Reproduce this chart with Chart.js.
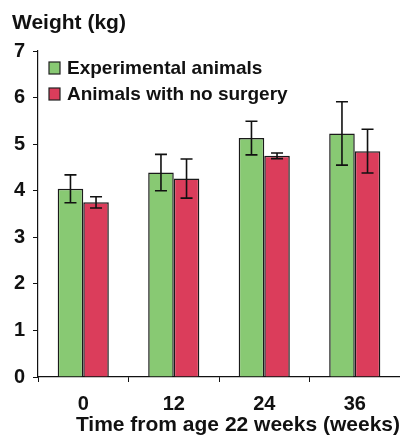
<!DOCTYPE html>
<html>
<head>
<meta charset="utf-8">
<script src="https://cdn.jsdelivr.net/npm/chart.js@4"></script>
<style>
  html, body { margin: 0; padding: 0; background: #fff; }
  #wrap { width: 400px; height: 438px; position: relative; }
</style>
</head>
<body>
<div id="wrap"><canvas id="weightChart"></canvas></div>
<script>
const weeks = ["0", "12", "24", "36"];
const experimental = [4.04, 4.39, 5.13, 5.23];
const experimentalErr = [0.3, 0.39, 0.36, 0.68];
const noSurgery = [3.75, 4.26, 4.75, 4.85];
const noSurgeryErr = [0.12, 0.42, 0.06, 0.47];
const seriesNames = ["Experimental animals", "Animals with no surgery"];
const yTitle = "Weight (kg)";
const xTitle = "Time from age 22 weeks (weeks)";

const FONT = "'Liberation Sans', Arial, Helvetica, sans-serif";

// error bars drawn on top of the bars
const errorBars = {
  id: "errorBars",
  afterDatasetsDraw(chart) {
    const ctx = chart.ctx;
    const y = chart.scales.y;
    ctx.save();
    ctx.strokeStyle = "#111";
    ctx.lineWidth = 1.6;
    chart.data.datasets.forEach((ds, di) => {
      const meta = chart.getDatasetMeta(di);
      meta.data.forEach((bar, i) => {
        const v = ds.data[i];
        const e = ds.errors[i];
        const top = y.getPixelForValue(v + e);
        const bot = y.getPixelForValue(v - e);
        ctx.beginPath();
        ctx.moveTo(bar.x, top);
        ctx.lineTo(bar.x, bot);
        ctx.moveTo(bar.x - 6, top);
        ctx.lineTo(bar.x + 6, top);
        ctx.moveTo(bar.x - 6, bot);
        ctx.lineTo(bar.x + 6, bot);
        ctx.stroke();
      });
    });
    ctx.restore();
  }
};

// y title above the axis + legend inside the plot, top left
const labelsPlugin = {
  id: "labelsPlugin",
  afterDraw(chart) {
    const ctx = chart.ctx;
    ctx.save();
    ctx.fillStyle = "#111";
    ctx.textBaseline = "middle";
    ctx.font = "bold 21px " + FONT;
    ctx.fillText(yTitle, 12, 23);

    const left = chart.chartArea.left + 11;
    ctx.font = "bold 19px " + FONT;
    chart.data.datasets.forEach((ds, i) => {
      const cy = 68 + i * 26;
      ctx.fillStyle = ds.backgroundColor;
      ctx.fillRect(left, cy - 6, 11, 12);
      ctx.strokeStyle = "#222";
      ctx.lineWidth = 1.2;
      ctx.strokeRect(left, cy - 6, 11, 12);
      ctx.fillStyle = "#111";
      ctx.fillText(ds.label, left + 18, cy + 1);
    });
    ctx.restore();
  }
};

const ctx = document.getElementById("weightChart").getContext("2d");

new Chart(ctx, {
  type: "bar",
  data: {
    labels: weeks,
    datasets: [
      {
        label: seriesNames[0],
        data: experimental,
        errors: experimentalErr,
        backgroundColor: "#88c973",
        borderColor: "#1a1a1a",
        borderWidth: 1.5,
      },
      {
        label: seriesNames[1],
        data: noSurgery,
        errors: noSurgeryErr,
        backgroundColor: "#db3d5b",
        borderColor: "#1a1a1a",
        borderWidth: 1.5,
      },
    ],
  },
  options: {
    responsive: true,
    maintainAspectRatio: false,
    animation: false,
    layout: { padding: { left: 0, right: 0, top: 51, bottom: 0 } },
    datasets: {
      bar: { categoryPercentage: 0.565, barPercentage: 1 },
    },
    plugins: {
      legend: { display: false },
      tooltip: { enabled: false },
    },
    scales: {
      x: {
        afterFit(scale) { scale.height = 61; },
        grid: {
          drawOnChartArea: false,
          drawTicks: true,
          tickLength: 5,
          color: "#111",
        },
        border: { color: "#111", width: 1.2 },
        ticks: {
          color: "#111",
          padding: 10,
          font: { family: FONT, size: 20, weight: "bold" },
        },
        title: {
          display: true,
          text: xTitle,
          color: "#111",
          align: "end",
          font: { family: FONT, size: 21, weight: "bold" },
          padding: { top: 0, bottom: 0 },
        },
      },
      y: {
        min: 0,
        max: 7,
        afterFit(scale) { scale.width = 38; },
        grid: {
          drawOnChartArea: false,
          drawTicks: true,
          tickLength: 5,
          color: "#111",
        },
        border: { color: "#111", width: 1.2 },
        ticks: {
          stepSize: 1,
          color: "#111",
          padding: 8,
          font: { family: FONT, size: 20, weight: "bold" },
        },
      },
    },
  },
  plugins: [errorBars, labelsPlugin],
});
</script>
</body>
</html>
